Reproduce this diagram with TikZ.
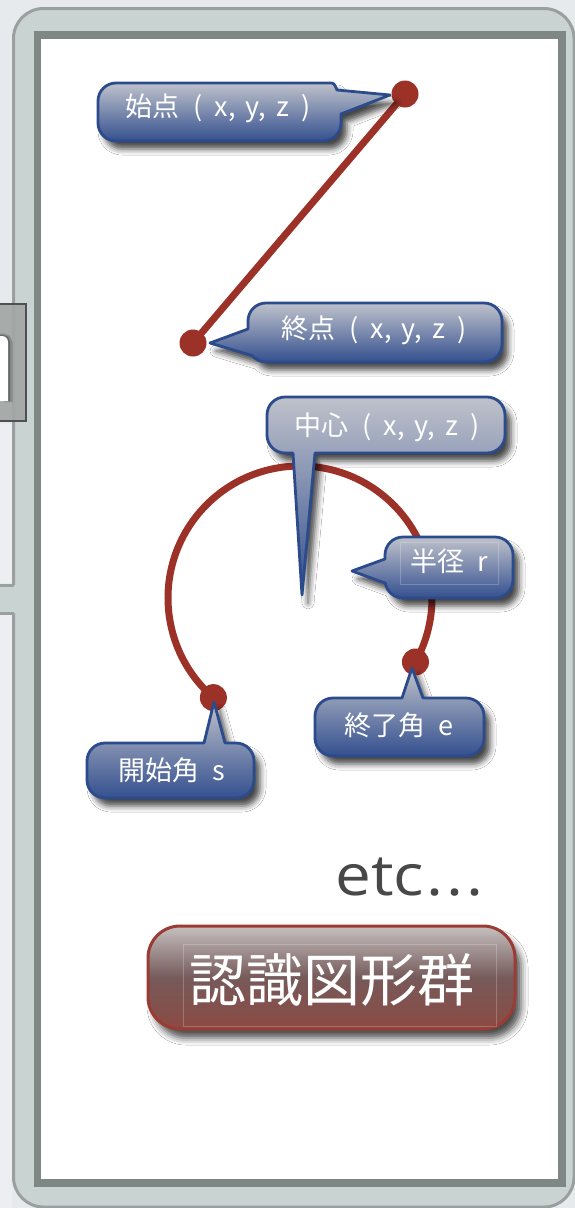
\documentclass[tikz,border=0pt]{standalone}
\usepackage{fontspec}
\newfontfamily\cjk{Noto Sans CJK JP}
\newfontfamily\etcfont{Open Sans}
\usetikzlibrary{shadows.blur}
\definecolor{bg}{HTML}{E6EAED}
\definecolor{bglight}{HTML}{ECEEF2}
\definecolor{frameout}{HTML}{C9D3D2}
\definecolor{frameline}{HTML}{9AA09E}
\definecolor{framein}{HTML}{7E8783}
\definecolor{rd}{HTML}{9C3128}
\definecolor{cbord}{HTML}{2B4B8C}
\definecolor{ctop}{HTML}{BFC2CB}
\definecolor{cbot}{HTML}{34508F}
\definecolor{gbord}{HTML}{9A3B34}
\definecolor{gtop}{HTML}{C6C0C0}
\definecolor{gmid}{HTML}{765A5A}
\definecolor{gbot}{HTML}{8C4A42}
\definecolor{etcgray}{HTML}{484848}
\definecolor{boxgray}{HTML}{A2A6A4}
\definecolor{boxline}{HTML}{505050}
\tikzset{
  callout/.style={draw=cbord, line width=2.8pt, top color=ctop, bottom color=cbot, line join=round,
    blur shadow={shadow xshift=6pt, shadow yshift=-8pt, shadow blur radius=6pt, shadow opacity=72}},
  ctext/.style={text=white, font=\cjk\fontsize{27}{27}\selectfont, inner sep=0pt, anchor=base},
  dot/.style={circle, fill=rd, minimum size=27pt, inner sep=0pt},
  redline/.style={draw=rd, line width=7pt},
  bigbox/.style={draw=gbord, line width=3pt, rounded corners=32pt, top color=gtop, bottom color=gbot, middle color=gmid,
    minimum width=367pt, minimum height=103pt, inner sep=0pt,
    blur shadow={shadow xshift=6pt, shadow yshift=-9pt, shadow blur radius=7pt, shadow opacity=70}},
  bigtext/.style={font=\cjk\fontsize{57}{57}\selectfont, inner sep=0pt, anchor=base},
  faint/.style={draw=white, opacity=0.22, line width=0.7pt},
}
\begin{document}
\begin{tikzpicture}[x=1pt,y=-1pt]
\useasboundingbox (0,0) rectangle (575,1208);
\fill[bg] (0,0) rectangle (575,1208);
\fill[bglight] (0,424) rectangle (12,583);
\fill[bglight] (0,615) rectangle (12,1208);
% outer frame
\draw[fill=frameout, draw=frameline, line width=3pt, rounded corners=30pt] (13.5,8.5) rectangle (574,1207);
\fill[frameout] (-2,585) rectangle (16,613);
\draw[frameline, line width=3pt] (-2,585) -- (14,585);
\draw[frameline, line width=3pt] (-2,613) -- (14,613);
% inner frame
\fill[framein] (34,31) rectangle (566,1187);
\fill[white] (41,39) rectangle (557.5,1179);
% partial box at left edge
\fill[boxgray, opacity=0.92] (-2,304) rectangle (26,421);
\draw[boxline, line width=1.5pt] (-2,304) -- (26,304) -- (26,421) -- (-2,421);
\draw[black, opacity=0.18, line width=9pt] (-2,338) -- (3,338) arc[start angle=270, end angle=360, radius=5] -- (8,402);
\draw[black, opacity=0.25, line width=4pt] (-2,337) -- (3,337) arc[start angle=270, end angle=360, radius=5] -- (8,401);
\fill[white] (-2,401) -- (-2,336) -- (2,336) arc[start angle=270, end angle=360, radius=6] -- (8,401) -- cycle;
% segment
\node[dot] (p1) at (405,94) {};
\node[dot] (p2) at (193,343) {};
\draw[redline] (p1.center) -- (p2.center);
% arc
\coordinate (c) at (300,598);
\node[dot] (s) at ([shift={(131:132)}]c) {};
\node[dot] (e) at ([shift={(29:132)}]c) {};
\draw[redline] (s.center) arc[start angle=131, end angle=389, radius=132];
% callouts
\path[callout] (98,101) arc[start angle=180, end angle=270, radius=18] -- (329,83)
  .. controls (334,83) .. (337,90) -- (390,95) -- (341,114) -- (341,123)
  arc[start angle=0, end angle=90, radius=18] -- (116,141)
  arc[start angle=90, end angle=180, radius=18] -- cycle;
\path[callout] (248,321) arc[start angle=180, end angle=270, radius=18] -- (484,303)
  arc[start angle=270, end angle=360, radius=18] -- (502,344)
  arc[start angle=0, end angle=90, radius=18] -- (266,362)
  arc[start angle=90, end angle=140, radius=18] -- (210,343) -- (248,329) -- cycle;
\path[callout] (267,415) arc[start angle=180, end angle=270, radius=18] -- (487,397)
  arc[start angle=270, end angle=360, radius=18] -- (505,435)
  arc[start angle=0, end angle=90, radius=18] -- (315,453) -- (302,595) -- (293,453) -- (285,453)
  arc[start angle=90, end angle=180, radius=18] -- cycle;
\path[callout] (385,555) arc[start angle=180, end angle=270, radius=18] -- (495,537)
  arc[start angle=270, end angle=360, radius=18] -- (513,580)
  arc[start angle=0, end angle=90, radius=18] -- (403,598)
  arc[start angle=90, end angle=170, radius=18] -- (352,571) -- (385,559) -- cycle;
\path[callout] (87,761) arc[start angle=180, end angle=270, radius=18] -- (204,743) -- (214,702) -- (225,743) -- (236,743)
  arc[start angle=270, end angle=360, radius=18] -- (254,780)
  arc[start angle=0, end angle=90, radius=18] -- (105,798)
  arc[start angle=90, end angle=180, radius=18] -- cycle;
\path[callout] (315,716) arc[start angle=180, end angle=270, radius=18] -- (402,698) -- (412,668) -- (423,698) -- (466,698)
  arc[start angle=270, end angle=360, radius=18] -- (484,738)
  arc[start angle=0, end angle=90, radius=18] -- (333,756)
  arc[start angle=90, end angle=180, radius=18] -- cycle;
\draw[faint] (400,542) rectangle (498,584);
% callout texts
\node[ctext] (t1) at (218,116) {始点\hspace{14pt}(\hspace{12pt}x,\hspace{10pt}y,\hspace{10pt}z\hspace{12pt})};
\node[ctext] (t2) at (374,338) {終点\hspace{14pt}(\hspace{12pt}x,\hspace{10pt}y,\hspace{10pt}z\hspace{12pt})};
\node[ctext] (t3) at (387,435) {中心\hspace{14pt}(\hspace{12pt}x,\hspace{10pt}y,\hspace{10pt}z\hspace{12pt})};
\node[ctext] (t4) at (449,571) {半径\hspace{13pt}r};
\node[ctext] (t5) at (172,780) {開始角\hspace{13pt}s};
\node[ctext] (t6) at (399,735) {終了角\hspace{13pt}e};
% etc
\node[font=\etcfont\fontsize{57}{57}\selectfont, text=etcgray, inner sep=0pt, anchor=base west] (etc) at (335,895)
  {\scalebox{1.12}[1]{etc\kern2pt.\kern3pt.\kern3pt.}};
% group box
\node[bigbox] (grp) at (331.5,977.5) {};
\draw[faint] (183,944) rectangle (496,1026);
\node[bigtext, text=white] (gt) at (331.5,1001) {認識図形群};
\end{tikzpicture}
\end{document}
